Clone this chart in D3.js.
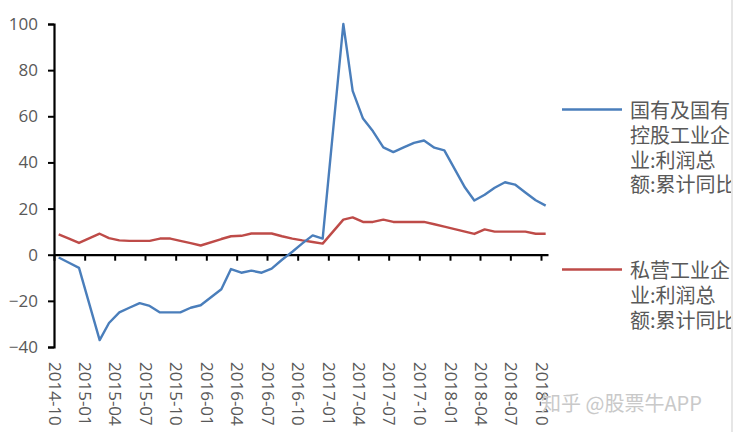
<!DOCTYPE html>
<html><head><meta charset="utf-8">
<script src="https://cdn.jsdelivr.net/npm/d3@7"></script>
<style>
html,body{margin:0;padding:0;background:#fff;}
svg{display:block;}
</style></head>
<body>
<svg id="chart" width="733" height="432"></svg>
<script>
const months = [
 "2014-10","2014-11","2014-12",
 "2015-02","2015-03","2015-04","2015-05","2015-06","2015-07","2015-08","2015-09","2015-10","2015-11","2015-12",
 "2016-02","2016-03","2016-04","2016-05","2016-06","2016-07","2016-08","2016-09","2016-10","2016-11","2016-12",
 "2017-02","2017-03","2017-04","2017-05","2017-06","2017-07","2017-08","2017-09","2017-10","2017-11","2017-12",
 "2018-02","2018-03","2018-04","2018-05","2018-06","2018-07","2018-08","2018-09","2018-10"
];
const stateOwned = [
 -1.2,-3.5,-5.7,
 -37.0,-29.6,-25.0,-23.0,-21.0,-22.2,-25.0,-25.0,-25.0,-23.0,-21.9,
 -15.0,-6.2,-7.8,-6.9,-7.8,-6.0,-2.2,1.3,4.9,8.4,7.0,
 100.0,71.0,59.0,53.5,46.5,44.5,46.5,48.5,49.5,46.4,45.2,
 29.1,23.5,26.0,29.0,31.4,30.4,27.0,23.6,21.3
];
const privateOwned = [
 8.8,7.0,5.1,
 9.1,7.2,6.2,6.0,6.0,6.0,7.0,7.0,6.0,5.0,4.0,
 6.8,8.0,8.2,9.2,9.2,9.2,8.0,7.0,6.2,5.5,4.8,
 15.2,16.2,14.2,14.2,15.2,14.2,14.2,14.2,14.2,13.2,12.2,
 10.0,9.0,11.0,10.0,10.0,10.0,10.0,9.1,9.1
];
const xTickLabels = ["2014-10","2015-01","2015-04","2015-07","2015-10","2016-01","2016-04","2016-07","2016-10","2017-01","2017-04","2017-07","2017-10","2018-01","2018-04","2018-07","2018-10"];
const yTicks = [-40,-20,0,20,40,60,80,100];
const legendState = ["国有及国有","控股工业企","业:利润总","额:累计同比"];
const legendPrivate = ["私营工业企","业:利润总","额:累计同比"];
const colors = {state:"#4a7ebb", priv:"#be4b48"};

const svg = d3.select("#chart");
svg.append("rect").attr("width",733).attr("height",432).attr("fill","#fff");

const parseM = d3.timeParse("%Y-%m");
const midMonth = s => d3.timeDay.offset(parseM(s), 14);

const x = d3.scaleTime()
  .domain([parseM("2014-10"), new Date(2018, 9, 22)])
  .range([54, 548]);
const y = d3.scaleLinear().domain([-40, 100]).range([347, 24]);

// y axis
const yAxis = d3.axisLeft(y).tickValues(yTicks).tickSize(6).tickPadding(10).tickSizeOuter(6);
const gy = svg.append("g").attr("transform","translate(54,0)").call(yAxis);
gy.select(".domain").attr("stroke","#000").attr("stroke-width",2.2);
gy.selectAll(".tick line").attr("stroke","#000").attr("stroke-width",2);
gy.selectAll(".tick text").attr("fill","#595959").style("font-family","'Open Sans', sans-serif").style("font-size","17px");

// x axis at y=0
const xAxis = d3.axisBottom(x).tickValues(xTickLabels.map(parseM)).tickSize(6).tickSizeOuter(0).tickFormat("");
const gx = svg.append("g").attr("transform",`translate(0,${y(0)})`).call(xAxis);
gx.select(".domain").attr("stroke","#000").attr("stroke-width",2.2);
gx.selectAll(".tick line").attr("stroke","#000").attr("stroke-width",2);

// x labels at bottom, rotated
svg.append("g").selectAll("text").data(xTickLabels).join("text")
  .attr("transform", d => `translate(${x(parseM(d))+1},362) rotate(90)`)
  .attr("text-anchor","start")
  .attr("dominant-baseline","central")
  .attr("fill","#595959")
  .style("font-family","'Open Sans', sans-serif").style("font-size","17px")
  .text(d => d);

// lines
const line = d3.line().x(d => x(midMonth(d.m))).y(d => y(d.v));
const sState = months.map((m,i) => ({m, v: stateOwned[i]}));
const sPriv = months.map((m,i) => ({m, v: privateOwned[i]}));
svg.append("path").datum(sPriv).attr("d", line).attr("fill","none")
  .attr("stroke", colors.priv).attr("stroke-width",2.4).attr("stroke-linejoin","round");
svg.append("path").datum(sState).attr("d", line).attr("fill","none")
  .attr("stroke", colors.state).attr("stroke-width",2.4).attr("stroke-linejoin","round");

// legend
function legend(lines, color, y0) {
  svg.append("line").attr("x1",562).attr("x2",622).attr("y1",y0).attr("y2",y0)
    .attr("stroke",color).attr("stroke-width",2.6);
  svg.append("g").selectAll("text").data(lines).join("text")
    .attr("x",630).attr("y",(d,i)=> y0 + i*24.8)
    .attr("dominant-baseline","central")
    .attr("fill","#595959")
    .style("font-family","'Noto Sans CJK SC', sans-serif").style("font-size","20px")
    .text(d=>d);
}
legend(legendState, colors.state, 109.5);
legend(legendPrivate, colors.priv, 269.5);

// watermark
svg.append("text").attr("x",541).attr("y",402).attr("dominant-baseline","central")
  .attr("fill","#c9c9c9")
  .style("font-family","'Noto Sans CJK SC', sans-serif").style("font-size","20px")
  .text("知乎 @股票牛APP");

svg.append("rect").attr("x",731).attr("y",0).attr("width",2).attr("height",432).attr("fill","#e6e6e6");
</script>
</body></html>
